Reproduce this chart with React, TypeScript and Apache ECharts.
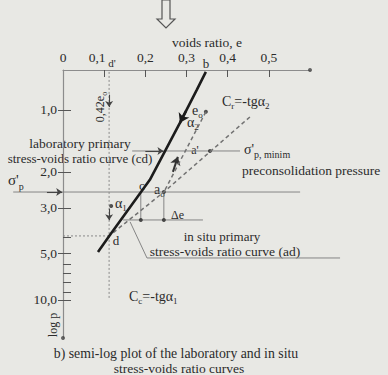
import React, { useEffect, useRef } from 'react';
import * as echarts from 'echarts';

// ---- axis scales ----
const eTickValues = [0, 0.1, 0.2, 0.3, 0.4, 0.5];
const pTickValues = [1, 2, 3, 4, 5, 6, 7, 8, 9, 10];
// position of each p tick on the drawn log-p scale (1,0 -> 0 ; 10,0 -> 1)
const pTickDrawnLog = [0, 0.326, 0.516, 0.668, 0.753, 0.81, 0.858, 0.905, 0.958, 1.0];
const pLabelled = [1, 2, 3, 5, 10];

// ---- curves, as [void ratio e, drawn log p] ----
const labCurve = [[0.347, -0.2], [0.325, -0.105], [0.284, 0.068], [0.211, 0.368], [0.114, 0.658], [0.085, 0.747]];
const inSituCurve = [[0.454, 0.037], [0.245, 0.432], [0.112, 0.663]];
const recompression = [[0.347, 0.01], [0.245, 0.432]];

// thin construction lines
const sigmaPLine = [[-0.121, 0.432], [0.576, 0.432]];
const sigmaPMinLine = [[0.168, 0.216], [0.43, 0.216]];
const deltaELine = [[0.146, 0.579], [0.34, 0.579]];
const cDrop = [[0.189, 0.432], [0.189, 0.579]];
const aDrop = [[0.245, 0.432], [0.245, 0.579]];
const inSituLeader = [[0.163, 0.589], [0.204, 0.779], [0.673, 0.779]];
const dPrimeLine = [[0.112, -0.2], [0.112, 0.989]];
const dLevelLine = [[0, 0.663], [0.112, 0.663]];

// arrows (tail -> head)
const arrows = [
  [[-0.039, 0.432], [-0.002, 0.432]],
  [[0.112, -0.08], [0.112, -0.015]],
  [[0.112, 0.52], [0.112, 0.58]],
  [[0.2, 0.216], [0.244, 0.216]],
];
const curveArrows = [
  [[0.299, 0.005], [0.284, 0.068]],
];
const dashArrows = [
  [[0.267, 0.326], [0.279, 0.247]],
];

const dots = [[0.189, 0.579], [0.245, 0.579], [0.245, 0.432], [0.357, 0.216], [0.347, 0.01], [0.117, 0.505]];
const axisEnds = [[0.6, -0.21], [0, 1.2]];

const SERIF = '"Liberation Serif", "DejaVu Serif", serif';
const INK = '#2b2b2b';
const BG = '#e8e8e4';

const fmtComma = (v: number) => v.toFixed(1).replace('.', ',');

const txt = (x: number, y: number, text: string, size = 11, align = 'left', extra: any = {}) => ({
  type: 'text',
  x,
  y,
  silent: true,
  ...extra,
  style: { text, fill: INK, fontFamily: SERIF, fontSize: size, align, verticalAlign: 'middle', ...(extra.style || {}) },
});

const subRich = {
  a: { fontFamily: SERIF, fontSize: 12, color: INK, fill: INK, lineHeight: 16, verticalAlign: 'middle' },
  s: { fontFamily: SERIF, fontSize: 8, color: INK, fill: INK, lineHeight: 8, verticalAlign: 'bottom' },
  A: { fontFamily: SERIF, fontSize: 14, color: INK, fill: INK, lineHeight: 18, verticalAlign: 'middle' },
  S: { fontFamily: SERIF, fontSize: 9, color: INK, fill: INK, lineHeight: 9, verticalAlign: 'bottom' },
  g: { fontFamily: SERIF, fontSize: 15, color: INK, fill: INK, lineHeight: 22, verticalAlign: 'middle' },
  gs: { fontFamily: SERIF, fontSize: 14, color: INK, fill: INK, lineHeight: 20, verticalAlign: 'middle' },
  p: { fontFamily: SERIF, fontSize: 10, color: INK, fill: INK, lineHeight: 10, verticalAlign: 'bottom' },
};

const richTxt = (x: number, y: number, text: string, align = 'left') => ({
  type: 'text',
  x,
  y,
  silent: true,
  style: { text, rich: subRich, fill: INK, fontFamily: SERIF, fontSize: 12, align, verticalAlign: 'middle' },
});

export default function App() {
  const ref = useRef<HTMLDivElement>(null);

  useEffect(() => {
    if (!ref.current) return;
    const chart = echarts.init(ref.current, null, { renderer: 'svg' });

    const option: any = {
      animation: false,
      backgroundColor: BG,
      grid: { left: 63, top: 70, width: 247, height: 268, containLabel: false },
      xAxis: {
        type: 'value',
        position: 'top',
        min: 0,
        max: 0.6,
        interval: 0.1,
        axisLine: { show: true, onZero: false, lineStyle: { color: '#8c8c8c', width: 1 } },
        axisTick: { show: true, inside: true, length: 7, customValues: [0.1, 0.2, 0.3, 0.4, 0.5], lineStyle: { color: '#555' } },
        axisLabel: {
          customValues: eTickValues,
          margin: 6,
          color: INK,
          fontFamily: SERIF,
          fontSize: 13.5,
          formatter: (v: number) => (v === 0 ? '0' : Math.abs(v - 0.1) < 1e-6 ? '{l|0,1}' : fmtComma(v)),
          rich: { l: { padding: [0, 14, 0, 0], fontFamily: SERIF, fontSize: 13.5, color: INK } },
        },
        splitLine: { show: false },
      },
      yAxis: [
        {
          type: 'value',
          inverse: true,
          min: -0.21,
          max: 1.2,
          axisLine: { show: true, onZero: false, lineStyle: { color: '#8c8c8c', width: 1.2 } },
          axisTick: { show: true, inside: true, length: 8, customValues: pTickDrawnLog, lineStyle: { color: '#555' } },
          axisLabel: {
            customValues: pLabelled.map((p) => pTickDrawnLog[pTickValues.indexOf(p)]),
            margin: 6,
            color: INK,
            fontFamily: SERIF,
            fontSize: 13.5,
            formatter: (v: number) => {
              const i = pTickDrawnLog.findIndex((p) => Math.abs(p - v) < 1e-6);
              return i >= 0 ? fmtComma(pTickValues[i]) : '';
            },
          },
          splitLine: { show: false },
        },
        {
          type: 'value',
          inverse: true,
          min: -0.21,
          max: 1.2,
          position: 'left',
          axisLine: { show: false, onZero: false },
          axisTick: {
            show: true,
            inside: false,
            length: 5,
            customValues: pLabelled.map((p) => pTickDrawnLog[pTickValues.indexOf(p)]),
            lineStyle: { color: '#555' },
          },
          axisLabel: { show: false },
          splitLine: { show: false },
        },
      ],
      series: [
        {
          type: 'lines',
          coordinateSystem: 'cartesian2d',
          polyline: true,
          clip: false,
          silent: true,
          lineStyle: { color: '#858585', width: 1, opacity: 1 },
          data: [sigmaPLine, sigmaPMinLine, deltaELine, cDrop, aDrop, inSituLeader].map((c) => ({ coords: c })),
        },
        {
          type: 'lines',
          coordinateSystem: 'cartesian2d',
          polyline: true,
          clip: false,
          silent: true,
          lineStyle: { color: '#8a8a8a', width: 1, type: [2, 2], opacity: 1 },
          data: [dPrimeLine, dLevelLine].map((c) => ({ coords: c })),
        },
        {
          type: 'line',
          data: inSituCurve,
          symbol: 'none',
          silent: true,
          lineStyle: { color: '#727272', width: 1.5, type: [4, 3] },
        },
        {
          type: 'line',
          data: recompression,
          symbol: 'none',
          silent: true,
          lineStyle: { color: '#727272', width: 1.5, type: [4, 3] },
        },
        {
          type: 'line',
          data: labCurve,
          symbol: 'none',
          silent: true,
          lineStyle: { color: '#1c1c1c', width: 2.6 },
        },
        {
          type: 'lines',
          coordinateSystem: 'cartesian2d',
          clip: false,
          silent: true,
          symbol: ['none', 'arrow'],
          symbolSize: 6,
          lineStyle: { color: '#444', width: 1.1, opacity: 1 },
          data: arrows.map((c) => ({ coords: c })),
        },
        {
          type: 'lines',
          coordinateSystem: 'cartesian2d',
          clip: false,
          silent: true,
          symbol: ['none', 'arrow'],
          symbolSize: 9,
          lineStyle: { color: '#1c1c1c', width: 2.4, opacity: 1 },
          data: curveArrows.map((c) => ({ coords: c })),
        },
        {
          type: 'lines',
          coordinateSystem: 'cartesian2d',
          clip: false,
          silent: true,
          symbol: ['none', 'arrow'],
          symbolSize: 8,
          lineStyle: { color: '#333', width: 2, opacity: 1 },
          data: dashArrows.map((c) => ({ coords: c })),
        },
        {
          type: 'scatter',
          data: dots,
          symbolSize: 4,
          clip: false,
          silent: true,
          itemStyle: { color: '#2b2b2b' },
        },
        {
          type: 'scatter',
          data: axisEnds,
          symbolSize: 4,
          clip: false,
          silent: true,
          itemStyle: { color: '#444' },
        },
      ],
      graphic: [
        {
          type: 'polygon',
          silent: true,
          shape: { points: [[162, 0], [170, 0], [170, 19], [175, 19], [166, 28], [157, 19], [162, 19]] },
          style: { fill: 'none', stroke: '#555', lineWidth: 1.2 },
        },
        txt(207, 42, 'voids ratio, e', 13.5, 'center'),
        txt(112, 63, "d'", 11, 'center'),
        txt(206, 63, 'b', 13, 'center'),
        txt(142, 185, 'c', 13, 'center'),
        richTxt(154, 189, '{A|a}{S|o}'),
        txt(195, 150, "a'", 12, 'center'),
        txt(116, 240, 'd', 13, 'center'),
        richTxt(192, 110, '{A|e}{S|o}'),
        richTxt(187, 122, '{A|α}{S|2}'),
        richTxt(115, 203, '{A|α}{S|1}'),
        txt(171, 215, 'Δe', 12, 'left'),
        richTxt(222, 101, '{A|C}{S|r}{A|=-tgα}{S|2}'),
        richTxt(129, 296, '{A|C}{S|c}{A|=-tgα}{S|1}'),
        richTxt(8, 180, "{g|σ'}{p|p}"),
        richTxt(244, 149, "{gs|σ'}{p|p, minim}"),
        txt(242, 170, 'preconsolidation pressure', 13.5, 'left'),
        txt(80, 143, 'laboratory primary', 13.5, 'center'),
        txt(80, 158, 'stress-voids ratio curve (cd)', 13, 'center'),
        txt(222, 236, 'in situ primary', 13, 'center'),
        txt(225, 251, 'stress-voids ratio curve (ad)', 13.5, 'center'),
        {
          type: 'text',
          x: 100,
          y: 107,
          rotation: Math.PI / 2,
          silent: true,
          style: { text: '{a|0,42e}{s|o}', rich: subRich, fill: INK, fontFamily: SERIF, fontSize: 12, align: 'center', verticalAlign: 'middle' },
        },
        {
          type: 'text',
          x: 53,
          y: 325,
          rotation: Math.PI / 2,
          silent: true,
          style: { text: 'log p', fill: INK, fontFamily: SERIF, fontSize: 12, align: 'center', verticalAlign: 'middle' },
        },
        txt(176, 353, 'b) semi-log plot of the laboratory and in situ', 13.8, 'center'),
        txt(179, 368, 'stress-voids ratio curves', 13.5, 'center'),
      ],
    };

    chart.setOption(option);
    return () => chart.dispose();
  }, []);

  return (
    <div
      ref={ref}
      style={{ position: 'fixed', left: 0, top: 0, width: 388, height: 375, background: BG }}
    />
  );
}
